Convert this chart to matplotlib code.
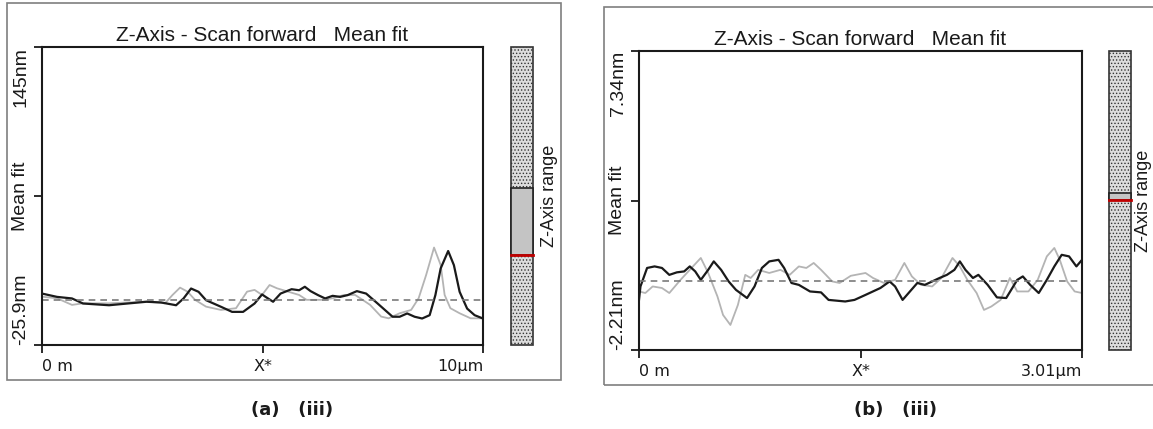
import matplotlib
matplotlib.use("Agg")
import matplotlib.pyplot as plt
from matplotlib.patches import Rectangle

# ---- data ----
title = "Z-Axis - Scan forward   Mean fit"

# panel (a): x in um, z in nm
a_xlim = [0, 10]
a_zlim = [-25.9, 145]
a_xlabels = ["0 m", "X*", "10\u03bcm"]
a_zlabels = ["-25.9nm", "Mean fit", "145nm"]
a_black_x = [0, 0.34, 0.68, 0.93, 1.52, 1.94, 2.37, 2.70, 3.04, 3.21, 3.38, 3.55, 3.72, 4.06,
             4.31, 4.56, 4.82, 4.99, 5.07, 5.24, 5.41, 5.66, 5.83, 5.96, 6.09, 6.26, 6.42,
             6.59, 6.76, 6.93, 7.14, 7.35, 7.61, 7.95, 8.11, 8.28, 8.45, 8.62, 8.79, 8.92,
             9.04, 9.21, 9.34, 9.47, 9.64, 9.81, 10.0]
a_black_z = [3.6, 1.7, 0.8, -2.1, -3.1, -2.1, -1.1, -1.5, -3.1, 0.8, 6.5, 4.6, -0.2, -4.0,
             -6.9, -6.9, -2.1, 3.1, 1.7, -1.1, 3.6, 6.1, 5.5, 7.5, 5.0, 2.7, 0.8,
             2.3, 1.7, 2.7, 5.0, 3.6, -2.1, -9.7, -9.7, -7.8, -9.7, -10.7, -8.8, 2.7,
             18.0, 28.0, 19.9, 4.6, -5.0, -8.8, -10.7]
a_gray_x = [0, 0.34, 0.68, 0.93, 1.52, 2.37, 2.79, 2.96, 3.13, 3.30, 3.47, 3.72, 4.06, 4.40,
            4.65, 4.82, 4.99, 5.16, 5.33, 5.58, 5.83, 6.00, 6.34, 6.59, 6.85, 7.10, 7.27,
            7.44, 7.69, 7.86, 8.11, 8.37, 8.54, 8.71, 8.89, 9.04, 9.13, 9.26, 9.47, 9.72, 10.0]
a_gray_z = [1.8, 0.9, -2.9, -2.0, -2.0, -1.0, -2.0, 2.8, 7.0, 4.7, 0, -3.9, -5.8, -4.8,
            4.7, 5.7, 2.8, 8.5, 6.6, 4.7, 2.8, 0, 0, 0.9, 2.8, 2.8, 0,
            -2.9, -9.6, -10.6, -7.7, -5.8, 0.9, 14.2, 30.0, 20.0, 2.8, -4.8, -7.7, -10.6, -10.6]
a_band = [0.302, 0.527]   # grey part of the Z-axis range bar (fraction of bar)

# panel (b)
b_xlim = [0, 3.01]
b_zlim = [-2.21, 7.34]
b_xlabels = ["0 m", "X*", "3.01\u03bcm"]
b_zlabels = ["-2.21nm", "Mean fit", "7.34nm"]
b_black_x = [0, 0.01, 0.055, 0.106, 0.156, 0.206, 0.257, 0.307, 0.345, 0.382, 0.420, 0.470,
             0.508, 0.558, 0.609, 0.659, 0.734, 0.785, 0.835, 0.885, 0.948, 0.986, 1.036,
             1.086, 1.162, 1.237, 1.288, 1.401, 1.464, 1.539, 1.640, 1.703, 1.740, 1.791,
             1.841, 1.891, 1.942, 1.992, 2.042, 2.092, 2.143, 2.180, 2.218, 2.269, 2.306,
             2.369, 2.432, 2.495, 2.570, 2.608, 2.658, 2.716, 2.771, 2.822, 2.872, 2.922,
             2.972, 3.01]
b_black_z = [-0.61, -0.18, 0.41, 0.46, 0.41, 0.19, 0.27, 0.30, 0.46, 0.30, 0.03, 0.35,
             0.62, 0.35, -0.02, -0.29, -0.55, -0.18, 0.41, 0.62, 0.67, 0.41, -0.07,
             -0.13, -0.34, -0.37, -0.61, -0.66, -0.61, -0.45, -0.23, -0.02, -0.18, -0.61,
             -0.34, -0.07, -0.13, -0.02, 0.09, 0.19, 0.35, 0.62, 0.35, 0.09, 0.19,
             -0.13, -0.53, -0.55, 0.03, 0.14, -0.13, -0.39, 0.03, 0.46, 0.83, 0.78,
             0.46, 0.67]
b_gray_x = [0, 0.043, 0.093, 0.156, 0.206, 0.282, 0.345, 0.420, 0.470, 0.533, 0.571, 0.621,
            0.672, 0.722, 0.759, 0.810, 0.885, 0.961, 1.024, 1.086, 1.137, 1.187, 1.237,
            1.313, 1.363, 1.439, 1.539, 1.590, 1.665, 1.740, 1.803, 1.854, 1.916, 1.992,
            2.055, 2.130, 2.180, 2.231, 2.294, 2.344, 2.394, 2.457, 2.520, 2.570, 2.646,
            2.709, 2.771, 2.822, 2.859, 2.909, 2.960, 3.01]
b_gray_z = [-0.34, -0.39, -0.18, -0.23, -0.39, 0.03, 0.35, 0.73, 0.25, -0.50, -1.09, -1.41,
            -0.77, 0.19, 0.09, 0.35, 0.25, 0.35, 0.19, 0.46, 0.41, 0.57, 0.35,
            -0.02, -0.07, 0.16, 0.25, 0.09, -0.07, 0.03, 0.57, 0.14, -0.13, -0.18,
            0.09, 0.73, 0.46, 0.03, -0.39, -0.93, -0.82, -0.61, 0.09, -0.34, -0.34,
            0.03, 0.78, 1.05, 0.67, -0.02, -0.34, -0.39]
b_band = [0.502, 0.525]

captions = ["(a)   (iii)", "(b)   (iii)"]

W, H = 1153, 429
plt.rcParams['font.family'] = ['Liberation Sans', 'DejaVu Sans']
plt.rcParams['hatch.color'] = '#8c8c8c'
plt.rcParams['hatch.linewidth'] = 0.6

fig = plt.figure(figsize=(W / 100, H / 100), dpi=100)


def box(x0, y0, x1, y1):
    # pixel box (top-left origin) -> figure fraction rect
    return [x0 / W, 1 - y1 / H, (x1 - x0) / W, (y1 - y0) / H]


def panel(frame, plot_box, bar_box, xlim, zlim, xlabels, zlabels,
          bx, bz, gx, gz, band, caption_xy, caption, rng_x):
    # outer grey frame
    fig.add_artist(Rectangle((frame[0], frame[1]), frame[2], frame[3],
                             transform=fig.transFigure, fill=False,
                             ec='#7f7f7f', lw=1.2))

    ax = fig.add_axes(box(*plot_box))
    ax.plot(gx, gz, color='#b4b4b4', lw=1.3)
    ax.plot(bx, bz, color='#1a1a1a', lw=1.6)
    ax.axhline(0, color='#7a7a7a', lw=1.2, ls=(0, (4, 3)))
    ax.set_xlim(xlim)
    ax.set_ylim(zlim)
    for s in ax.spines.values():
        s.set_linewidth(1.5)
        s.set_color('#1a1a1a')
    ax.tick_params(direction='out', length=6, width=1.3, color='#1a1a1a', pad=4)

    ax.set_xticks([xlim[0], (xlim[0] + xlim[1]) / 2, xlim[1]])
    ax.set_xticklabels(xlabels, family='DejaVu Sans', fontsize=11.5, color='#1a1a1a')
    xt = ax.get_xticklabels()
    xt[0].set_ha('left')
    xt[2].set_ha('right')

    ax.set_yticks([zlim[0], (zlim[0] + zlim[1]) / 2, zlim[1]])
    ax.set_yticklabels(zlabels, fontsize=14, color='#1a1a1a')
    yt = ax.get_yticklabels()
    for lab, va in zip(yt, ['bottom', 'center', 'top']):
        lab.set_rotation(90)
        lab.set_va(va)
    ax.tick_params(axis='y', pad=3)
    ax.set_title(title, fontsize=15, pad=4, color='#1a1a1a')

    # Z-axis range bar
    cb = fig.add_axes(box(*bar_box))
    cb.set_xlim(0, 1)
    cb.set_ylim(0, 1)
    cb.axis('off')
    cb.add_patch(Rectangle((0, 0), 1, 1, fc='#dcdcdc', ec='#333333', lw=1.2,
                           hatch='.....', clip_on=False))
    cb.add_patch(Rectangle((0, band[0]), 1, band[1] - band[0], fc='#c4c4c4',
                           ec='#222222', lw=1.2, clip_on=False))
    cb.plot([0, 1], [band[0], band[0]], color='#c00000', lw=2, clip_on=False)
    fig.text(rng_x / W, 1 - (bar_box[1] + bar_box[3]) / 2 / H, "Z-Axis range",
             rotation=90, ha='center', va='center', fontsize=13, color='#1a1a1a')

    fig.text(caption_xy[0] / W, 1 - caption_xy[1] / H, caption, ha='center',
             va='center', fontsize=13, weight='bold',
             family=['Liberation Sans Narrow', 'DejaVu Sans'], color='#1a1a1a')


panel([7 / W, 1 - 380 / H, 554 / W, 377 / H], (42, 47, 483, 345), (511, 47, 533, 345),
      a_xlim, a_zlim, a_xlabels, a_zlabels, a_black_x, a_black_z, a_gray_x, a_gray_z,
      a_band, (292, 410), captions[0], 550)
panel([604 / W, 1 - 385 / H, 560 / W, 378 / H], (639, 51, 1082, 350), (1109, 51, 1131, 350),
      b_xlim, b_zlim, b_xlabels, b_zlabels, b_black_x, b_black_z, b_gray_x, b_gray_z,
      b_band, (895, 410), captions[1], 1144)

fig.savefig("out.png", dpi=100, facecolor='white')
